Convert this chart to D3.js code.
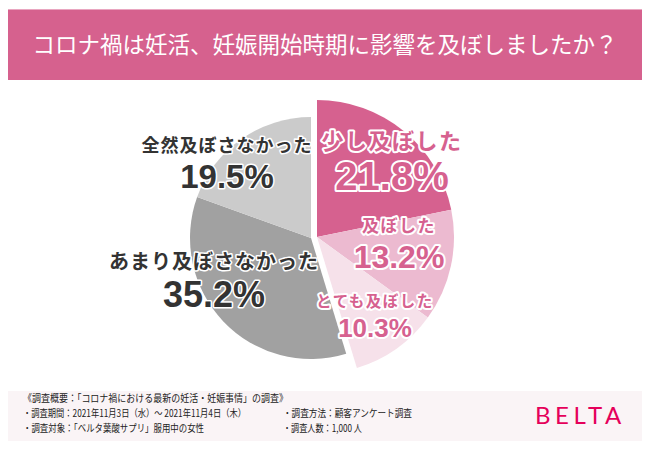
<!DOCTYPE html>
<html><head><meta charset="utf-8">
<script src="https://cdn.jsdelivr.net/npm/d3@7"></script>
<style>
html,body{margin:0;padding:0;background:#fff;}
svg{display:block;}
</style></head>
<body>
<svg id="chart" width="650" height="450"></svg>
<script>
// ---- data ----
const title = "コロナ禍は妊活、妊娠開始時期に影響を及ぼしましたか？";
const categories = ["少し及ぼした", "及ぼした", "とても及ぼした", "あまり及ぼさなかった", "全然及ぼさなかった"];
const values = [21.8, 13.2, 10.3, 35.2, 19.5];
const groups = ["pink", "pink", "pink", "gray", "gray"];
const footerLines = [
  "《調査概要：「コロナ禍における最新の妊活・妊娠事情」の調査》",
  "・調査期間：2021年11月3日（水）～ 2021年11月4日（木）",
  "・調査方法：顧客アンケート調査",
  "・調査対象：「ベルタ葉酸サプリ」服用中の女性",
  "・調査人数：1,000 人"
];
const brand = "BELTA";

// ---- styles / layout ----
const sliceColors = ["#d6618f", "#ecbad0", "#f6e1ea", "#a1a1a1", "#cbcbcb"];
const labelFill = ["#d6618f", "#d6618f", "#d6618f", "#333333", "#333333"];
const groupLayout = {pink: {cx: 317, cy: 237, r: 137}, gray: {cx: 311, cy: 238, r: 121}};
// label anchor positions: [x, nameBaseline, nameSize, pctBaseline, pctSize]
const labelLayout = [
  [392, 149, 22, 190, 40],
  [399, 232, 17, 268, 32],
  [375, 307, 15.5, 337, 26],
  [214, 269, 20, 307, 36],
  [227, 152, 18, 188, 33]
];
const footerLayout = [[23, 402, 265], [23, 417, 223], [283, 417, 129], [23, 432, 181], [283, 432, 79]];

const svg = d3.select("#chart");

// Title banner
svg.append("rect").attr("x", 8).attr("y", 9).attr("width", 634).attr("height", 71).attr("fill", "#d6618e");
svg.append("rect").attr("x", 8).attr("y", 9).attr("width", 634).attr("height", 1).attr("fill", "#e9a6c0");
svg.append("text").attr("x", 325).attr("y", 53).attr("text-anchor", "middle")
  .attr("font-family", "'Noto Sans CJK JP', sans-serif").attr("font-size", 22.5)
  .attr("fill", "#fff").text(title);

// Pie
const pie = d3.pie().sort(null).value(d => d.value).startAngle(0).endAngle(2 * Math.PI);
const data = categories.map((c, i) => ({cat: c, value: values[i], group: groups[i], i}));
const arcs = pie(data);

const sliceG = svg.append("g");
arcs.forEach(a => {
  const g = groupLayout[a.data.group];
  const arc = d3.arc().innerRadius(0).outerRadius(g.r);
  sliceG.append("path")
    .attr("transform", `translate(${g.cx},${g.cy})`)
    .attr("d", arc(a))
    .attr("fill", sliceColors[a.data.i]);
});

// Labels
const labG = svg.append("g");
arcs.forEach(a => {
  const i = a.data.i;
  const [x, nb, ns, pb, ps] = labelLayout[i];
  labG.append("text").attr("x", x).attr("y", nb).attr("text-anchor", "middle")
    .attr("font-family", "'Noto Sans CJK JP', sans-serif").attr("font-weight", 700)
    .attr("font-size", ns).attr("letter-spacing", i < 3 ? 1.5 : 1)
    .attr("fill", labelFill[i]).attr("stroke", "#fff").attr("stroke-width", i < 3 ? 4 : 3)
    .attr("stroke-linejoin", "round").attr("paint-order", "stroke")
    .text(a.data.cat);
  labG.append("text").attr("x", x).attr("y", pb).attr("text-anchor", "middle")
    .attr("font-family", "'Liberation Sans', Arial, sans-serif").attr("font-weight", 700)
    .attr("font-size", ps)
    .attr("fill", labelFill[i]).attr("stroke", "#fff").attr("stroke-width", i < 3 ? 4 : 3)
    .attr("stroke-linejoin", "round").attr("paint-order", "stroke")
    .text(d3.format(".1f")(a.data.value) + "%");
});

// Footer
svg.append("rect").attr("x", 8).attr("y", 391).attr("width", 634).attr("height", 50).attr("fill", "#faf4f6");
footerLines.forEach((t, i) => {
  const [x, y, w] = footerLayout[i];
  svg.append("text").attr("x", x).attr("y", y)
    .attr("font-family", "'Noto Sans CJK JP', sans-serif").attr("font-size", 10)
    .attr("fill", "#222").attr("textLength", w).attr("lengthAdjust", "spacingAndGlyphs")
    .text(t);
});
svg.append("text").attr("x", 535).attr("y", 424)
  .attr("font-family", "Lato, 'Open Sans', sans-serif").attr("font-weight", 400)
  .attr("font-size", 24).attr("letter-spacing", 4.5).attr("fill", "#e5005a")
  .text(brand);
</script>
</body></html>
